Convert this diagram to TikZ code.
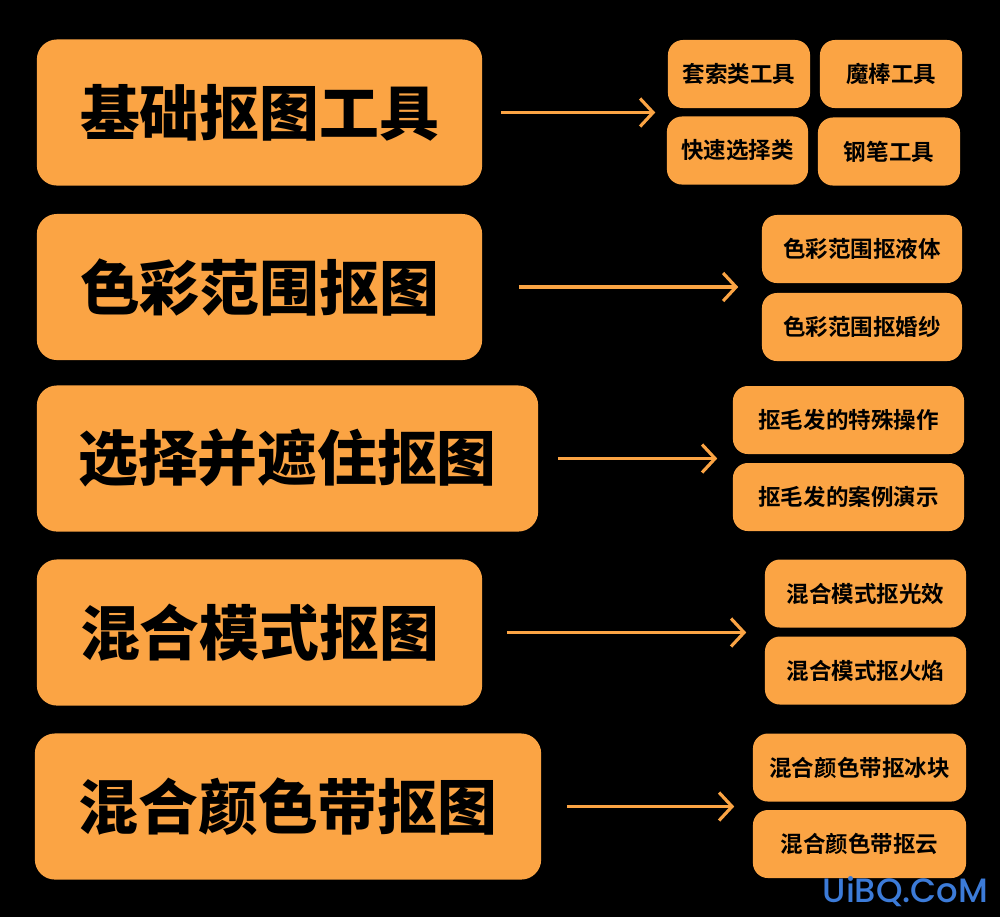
\documentclass[tikz,border=0pt]{standalone}
\usepackage{fontspec}
\setmainfont{Noto Sans CJK SC}[BoldFont=* Bold]
\newfontfamily\cjkheavy{Noto Sans CJK SC Black}
\newfontfamily\markfont{Poppins}[UprightFont=* Medium]
\usetikzlibrary{arrows.meta}
\definecolor{boxorange}{HTML}{FBA444}
\definecolor{markblue}{HTML}{3C7BD8}

\begin{document}
\begin{tikzpicture}[x=0.01cm,y=-0.01cm,
    bigbox/.style={fill=boxorange, rounded corners=0.2cm, inner sep=0pt,
      minimum height=1.46cm, font=\cjkheavy\fontsize{17}{17}\selectfont},
    subbox/.style={fill=boxorange, rounded corners=0.15cm, inner sep=0pt,
      minimum height=0.68cm, font=\bfseries\fontsize{6.4}{6.4}\selectfont},
    arr/.style={draw=boxorange, line width=0.9pt,
      -{Straight Barb[length=1.3mm, width=2.8mm, line width=0.9pt]}}]
    \fill[black] (0,0) rectangle (1000,917);
    \useasboundingbox (0,0) rectangle (1000,917);

    % main topics
    \node[bigbox, minimum width=4.45cm] (b1) at (259.5,112.5) {基础抠图工具};
    \node[bigbox, minimum width=4.45cm] (b2) at (259.5,287) {色彩范围抠图};
    \node[bigbox, minimum width=5.01cm] (b3) at (287.5,458.5) {选择并遮住抠图};
    \node[bigbox, minimum width=4.45cm] (b4) at (259.5,632.5) {混合模式抠图};
    \node[bigbox, minimum width=5.06cm] (b5) at (288,806.5) {混合颜色带抠图};

    % sub topics
    \node[subbox, minimum width=1.42cm] (s11) at (739,74) {套索类工具};
    \node[subbox, minimum width=1.42cm] (s12) at (891,74) {魔棒工具};
    \node[subbox, minimum width=1.41cm] (s13) at (737.5,150.5) {快速选择类};
    \node[subbox, minimum width=1.42cm] (s14) at (889,151.5) {钢笔工具};
    \node[subbox, minimum width=2.00cm] (s21) at (862,249) {色彩范围抠液体};
    \node[subbox, minimum width=2.00cm] (s22) at (862,327) {色彩范围抠婚纱};
    \node[subbox, minimum width=2.31cm] (s31) at (848.5,420) {抠毛发的特殊操作};
    \node[subbox, minimum width=2.31cm] (s32) at (848.5,497) {抠毛发的案例演示};
    \node[subbox, minimum width=2.01cm] (s41) at (865.5,593.5) {混合模式抠光效};
    \node[subbox, minimum width=2.01cm] (s42) at (865.5,670.5) {混合模式抠火焰};
    \node[subbox, minimum width=2.13cm] (s51) at (859.5,767.5) {混合颜色带抠冰块};
    \node[subbox, minimum width=2.13cm] (s52) at (859.5,844) {混合颜色带抠云};

    % arrows
    \draw[arr, shorten <=0.18cm, shorten >=0.12cm] (b1.east) -- (b1.east -| s11.west);
    \draw[arr, shorten <=0.36cm, shorten >=0.23cm] (b2.east) -- (b2.east -| s21.west);
    \draw[arr, shorten <=0.19cm, shorten >=0.15cm] (b3.east) -- (b3.east -| s31.west);
    \draw[arr, shorten <=0.24cm, shorten >=0.18cm] (b4.east) -- (b4.east -| s41.west);
    \draw[arr, shorten <=0.25cm, shorten >=0.18cm] (b5.east) -- (b5.east -| s51.west);

    \node[text=markblue, font=\markfont\fontsize{9.6}{9.6}\selectfont, anchor=east, inner sep=0pt] (mark) at (989,892) {UiBQ.CoM};
\end{tikzpicture}
\end{document}
